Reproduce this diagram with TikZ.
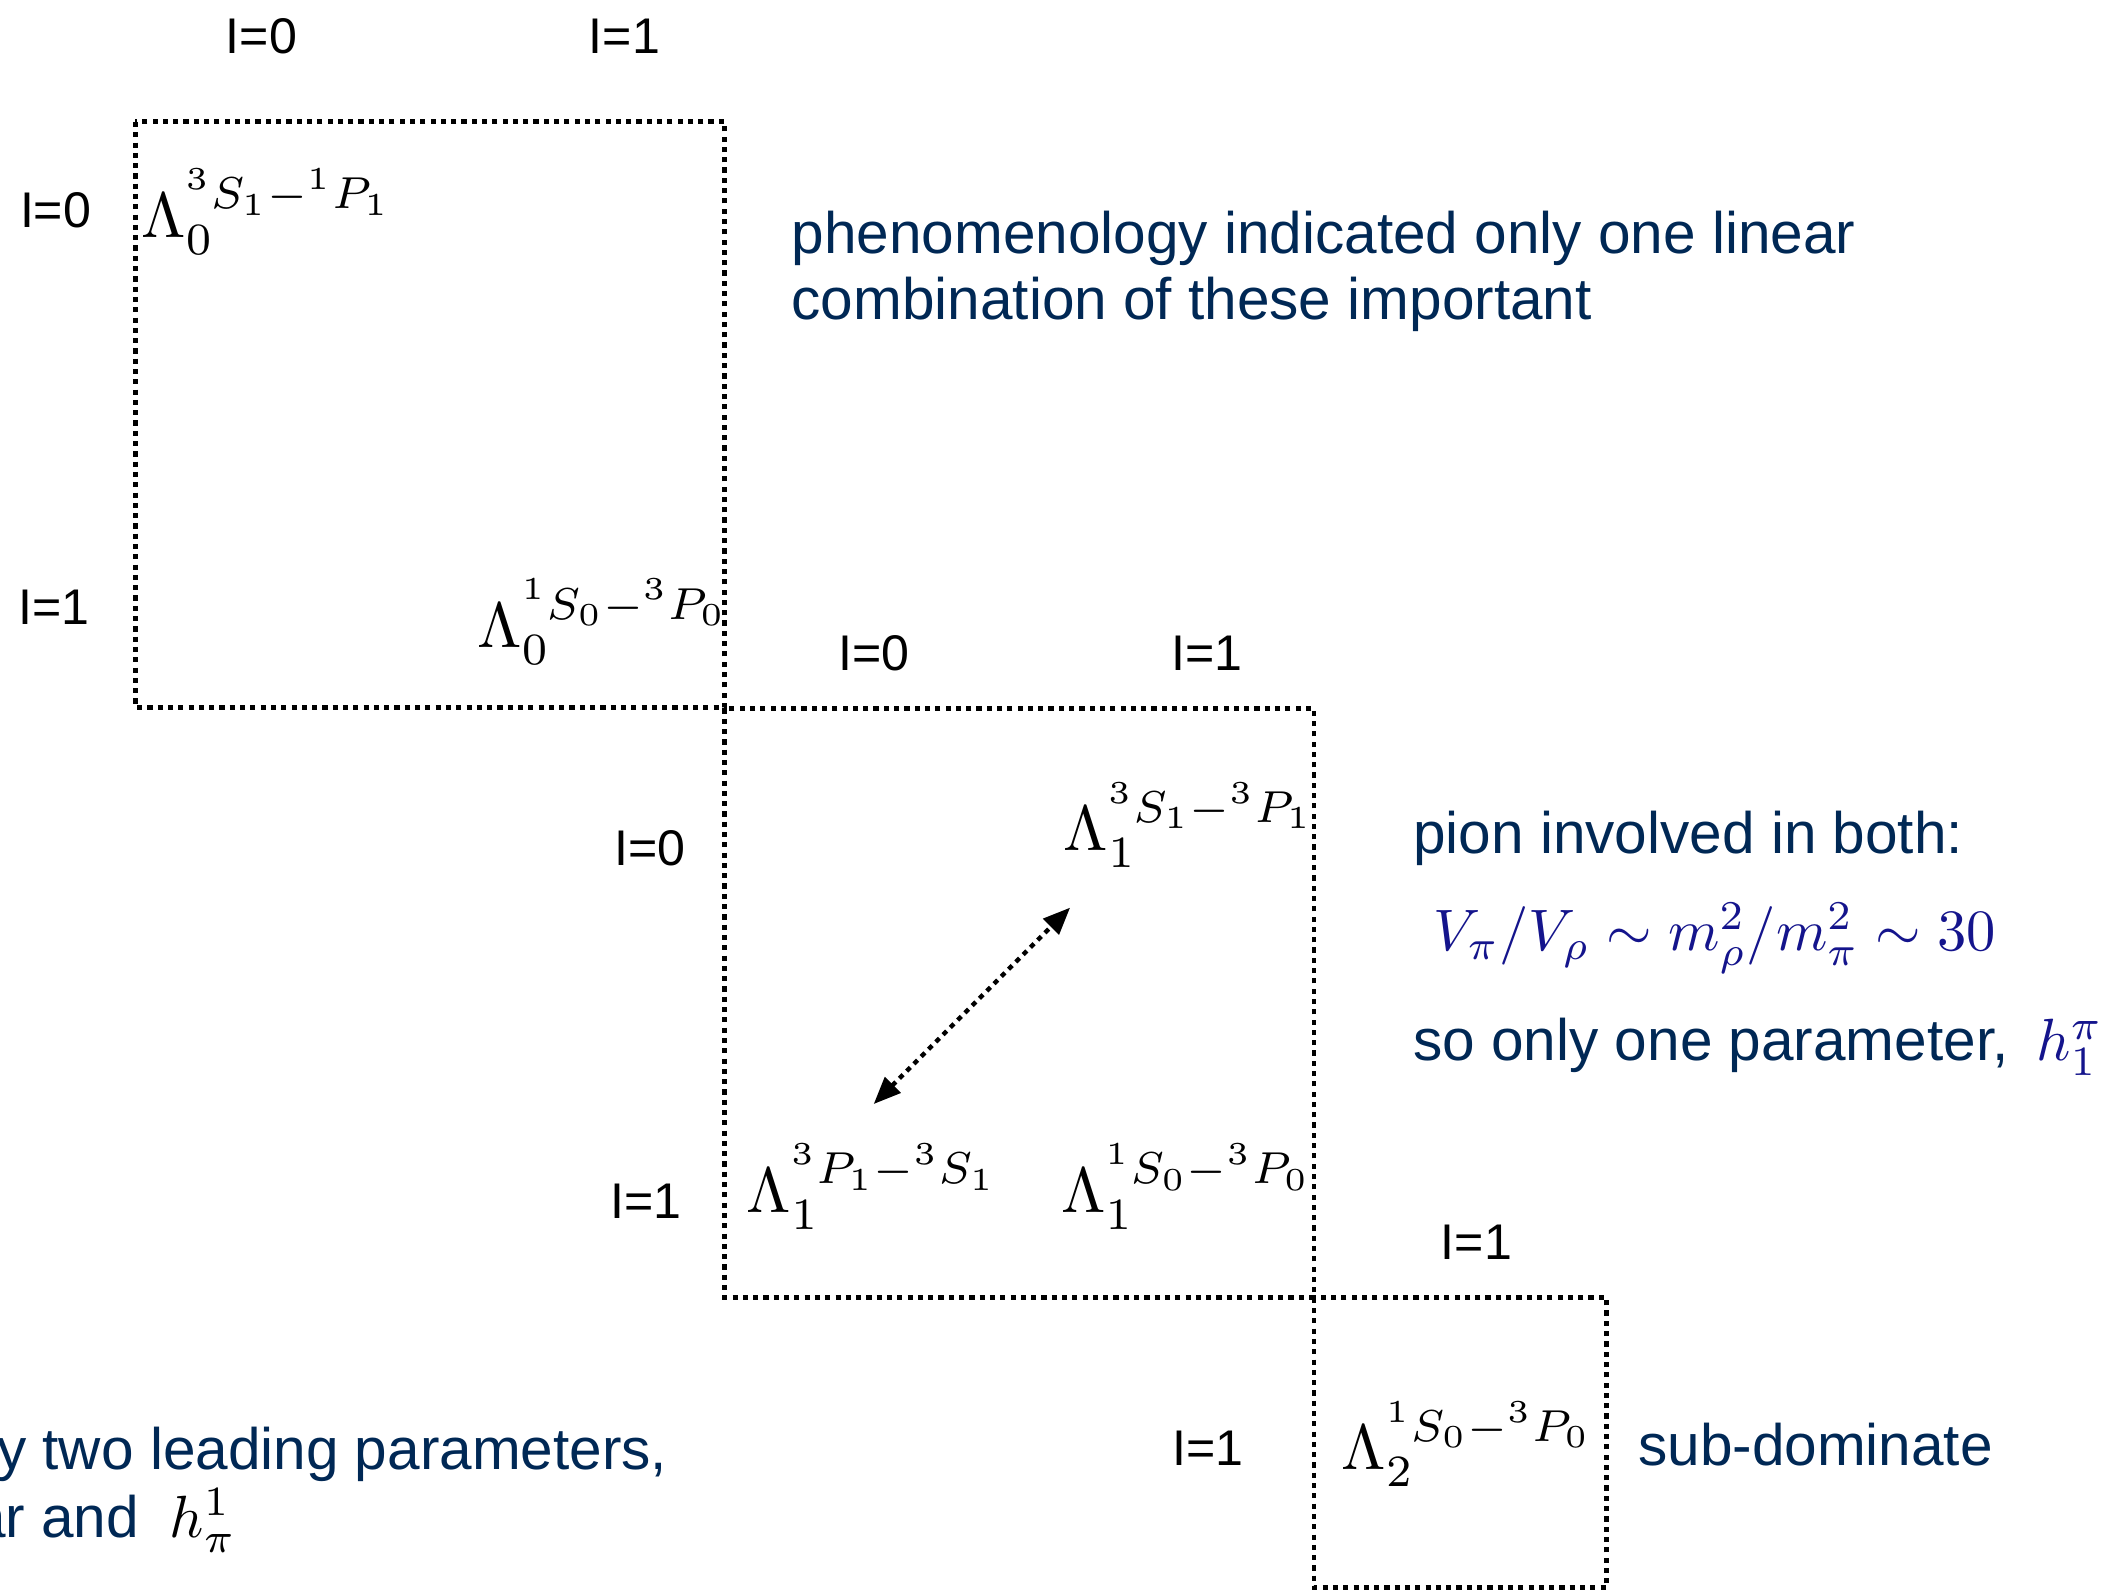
\documentclass[tikz,border=0pt]{standalone}
\usepackage[no-math]{fontspec}
\usepackage{graphicx}
\newfontfamily\hv{Liberation Sans}
\usetikzlibrary{arrows.meta}
\definecolor{navy}{RGB}{0,40,85}
\definecolor{eqblue}{RGB}{20,20,140}
\newcommand\SBox[2]{\scalebox{#1}{$#2$}}
\begin{document}
\begin{tikzpicture}[x=0.5pt,y=-0.5pt,
  lbl/.style={font=\hv\fontsize{18.5}{22}\selectfont, text=black, inner sep=0},
  txt/.style={font=\hv\fontsize{21.6}{26}\selectfont, text=navy, inner sep=0, anchor=base west},
  mth/.style={font=\normalsize, inner sep=0, anchor=base west},
  eqn/.style={font=\normalsize, text=eqblue, inner sep=0, anchor=base west},
  box/.style={line width=1.8pt, dash pattern=on 1.9pt off 1.9pt},
  dbl/.style={line width=1.6pt, dash pattern=on 1.9pt off 1.9pt, {Triangle[length=10pt,width=8pt]}-{Triangle[length=10pt,width=8pt]}}
]
\fill[white] (0,0) rectangle (1568,1175);
\clip (0,0) rectangle (1568,1175);

% boxes
\draw[box] (100,90) rectangle (535,522);
\draw[box] (535,523) rectangle (970,958);
\draw[box] (970,958) rectangle (1186,1172);

% isospin labels
\node[lbl] (t1) at (193,27) {I=0};
\node[lbl] (t2) at (461,27) {I=1};
\node[lbl] (l1) at (41,155) {I=0};
\node[lbl] (l2) at (40,448) {I=1};
\node[lbl] (t3) at (645,482) {I=0};
\node[lbl] (t4) at (891,482) {I=1};
\node[lbl] (l3) at (480,626) {I=0};
\node[lbl] (l4) at (477,887) {I=1};
\node[lbl] (t5) at (1090,917) {I=1};
\node[lbl] (l5) at (892,1069) {I=1};

% matrix entries
\node[mth] (L1) at (104,175) {\SBox{2.36}{\Lambda_0^{{}^3S_1-{}^1P_1}}};
\node[mth] (L2) at (352,478) {\SBox{2.36}{\Lambda_0^{{}^1S_0-{}^3P_0}}};
\node[mth] (L3) at (785,628) {\SBox{2.36}{\Lambda_1^{{}^3S_1-{}^3P_1}}};
\node[mth] (L4) at (551,895) {\SBox{2.36}{\Lambda_1^{{}^3P_1-{}^3S_1}}};
\node[mth] (L5) at (783,895) {\SBox{2.36}{\Lambda_1^{{}^1S_0-{}^3P_0}}};
\node[mth] (L6) at (990,1085) {\SBox{2.36}{\Lambda_2^{{}^1S_0-{}^3P_0}}};

% double arrow
\coordinate (a1) at (645,815);
\coordinate (a2) at (790,670);
\draw[dbl] (a1) -- (a2);

% commentary
\node[txt] (p1) at (584,187) {phenomenology indicated only one linear};
\node[txt] (p2) at (584,236) {combination of these important};
\node[txt] (q1) at (1043,630) {pion involved in both:};
\node[eqn] (q2) at (1058,702) {\SBox{2.16}{V_\pi/V_\rho\sim m_\rho^2/m_\pi^2\sim 30}};
\node[txt] (q3) at (1043,783) {so only one parameter,};
\node[eqn] (h1) at (1503,783) {\SBox{2.2}{h_1^\pi}};
\node[txt] (s1) at (1209,1082) {sub-dominate};
\node[txt, anchor=base east] (b1) at (493,1085) {y two leading parameters,};
\node[txt, anchor=base east] (b2) at (103,1135) {ar and};
\node[eqn, text=black] (h2) at (125,1135) {\SBox{2.2}{h_\pi^1}};
\end{tikzpicture}
\end{document}
